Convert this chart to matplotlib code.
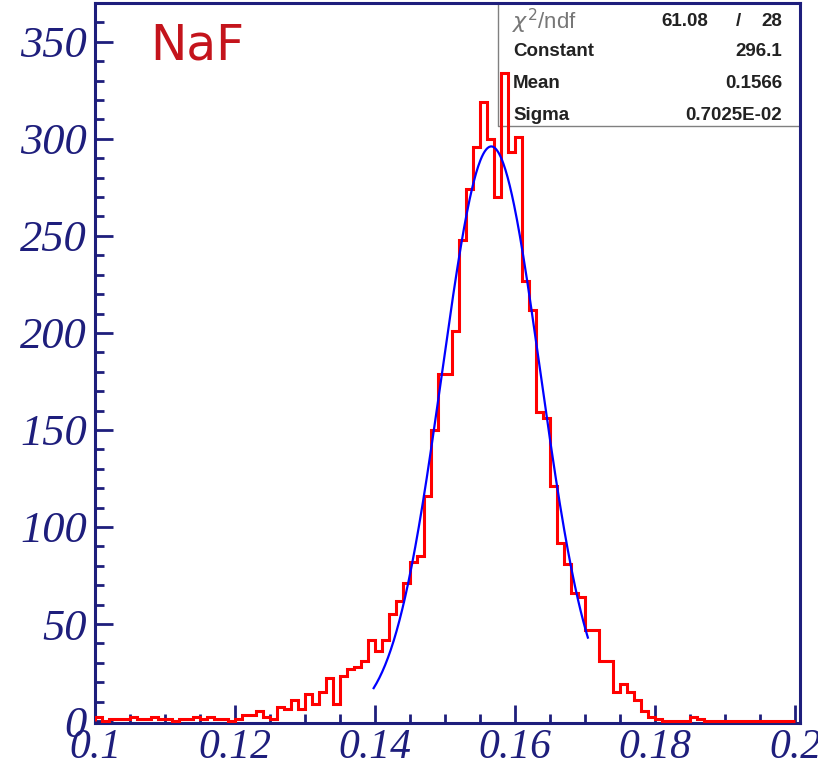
import numpy as np
import matplotlib
matplotlib.use("Agg")
import matplotlib.pyplot as plt
from matplotlib.ticker import MultipleLocator

# histogram: 100 bins of 0.001 from 0.1 to 0.2
edges = np.linspace(0.1, 0.2, 101)
counts = [2, 0, 1, 1, 1, 2, 1, 1, 2, 1, 1, 0, 1, 1, 2, 1, 2, 1, 1, 0,
          1, 3, 3, 5, 2, 1, 7, 6, 11, 6, 14, 9, 15, 22, 9, 23, 27, 28, 31, 42,
          36, 42, 55, 62, 71, 82, 85, 116, 150, 179, 179, 201, 248, 274, 296, 319, 300, 270, 334, 293,
          301, 227, 212, 159, 156, 121, 92, 81, 66, 64, 47, 47, 31, 31, 15, 19, 15, 11, 5, 2,
          1, 0, 0, 0, 0, 2, 1, 0, 0, 0, 0, 0, 0, 0, 0, 0, 0, 0, 0, 0]

# gaussian fit parameters (from the stats box)
const = 296.1
mean = 0.1566
sigma = 0.7025e-02
fit_range = (0.1398, 0.1704)

xticks = [0.1, 0.12, 0.14, 0.16, 0.18, 0.2]
xlabels = ["0.1", "0.12", "0.14", "0.16", "0.18", "0.2"]
yticks = [0, 50, 100, 150, 200, 250, 300, 350]
ylabels = ["0", "50", "100", "150", "200", "250", "300", "350"]

stats_rows = [("Constant", "296.1"), ("Mean", "0.1566"), ("Sigma", "0.7025E-02")]

navy = "#1e1e7c"

fig = plt.figure(figsize=(8.18, 7.7), dpi=100)
ax = fig.add_axes([95 / 818, 47 / 770, 705 / 818, 720 / 770])

ax.stairs(counts, edges, color="#ff0000", lw=2.2, zorder=3)

xf = np.linspace(fit_range[0], fit_range[1], 300)
yf = const * np.exp(-0.5 * ((xf - mean) / sigma) ** 2)
ax.plot(xf, yf, color="#0000ff", lw=1.6, zorder=4)

ax.set_xlim(0.1, 0.2007)
ax.set_ylim(-1, 370)

ax.set_xticks(xticks)
ax.set_xticklabels(xlabels, fontdict=dict(family="Liberation Serif", style="italic", size=30, color=navy))
ax.set_yticks(yticks)
ax.set_yticklabels(ylabels, fontdict=dict(family="Liberation Serif", style="italic", size=32, color=navy))
ax.xaxis.set_minor_locator(MultipleLocator(0.005))
ax.yaxis.set_minor_locator(MultipleLocator(10))
ax.tick_params(which="major", direction="in", length=13, width=2, color=navy, pad=4)
ax.tick_params(which="minor", direction="in", length=6.5, width=2, color=navy)
ax.tick_params(axis="y", pad=6)
for s in ax.spines.values():
    s.set_color(navy)
    s.set_linewidth(2.2)

# stats box
bx0 = (498 - 95) / 705
by0 = (722 - 125) / 720
ax.plot([bx0, bx0, 1], [1, by0, by0], transform=ax.transAxes, color="#808080", lw=1.0, zorder=2)

def fy(py):
    return (722 - py) / 720

vx = (782 - 95) / 705
bold = dict(transform=ax.transAxes, fontsize=13.5, fontweight="bold", va="center",
            family="Liberation Sans", color="#222222")
ax.text((512 - 95) / 705, fy(20), r"$\chi^2$/ndf", transform=ax.transAxes, color="#777777",
        fontsize=16, va="center", ha="left", family="Liberation Sans")
ax.text((708 - 95) / 705, fy(20), "61.08", ha="right", **bold)
ax.text((738 - 95) / 705, fy(20), "/", ha="center", **bold)
ax.text(vx, fy(20), "28", ha="right", **bold)
for i, (name, val) in enumerate(stats_rows):
    py = 51 + i * 31.5
    ax.text((513 - 95) / 705, fy(py), name, ha="left", **bold)
    ax.text(vx, fy(py), val, ha="right", **bold)

ax.text((150 - 95) / 705, fy(45), "NaF", transform=ax.transAxes, color="#c4141c",
        fontsize=35, va="center", ha="left", family="DejaVu Sans")

fig.savefig("out.png", dpi=100)
